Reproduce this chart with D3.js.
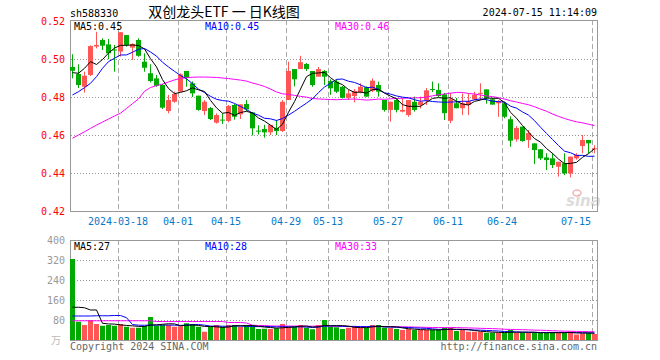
<!DOCTYPE html>
<html><head><meta charset="utf-8">
<script src="https://cdn.jsdelivr.net/npm/d3@7"></script>
<style>body{margin:0;background:#fff}svg{display:block}</style>
</head><body><svg id="c" width="660" height="360"></svg>
<script>
const dates = ["2024-03-06","2024-03-07","2024-03-08","2024-03-11","2024-03-12","2024-03-13","2024-03-14","2024-03-15",
"2024-03-18","2024-03-19","2024-03-20","2024-03-21","2024-03-22","2024-03-25","2024-03-26","2024-03-27","2024-03-28","2024-03-29",
"2024-04-01","2024-04-02","2024-04-03","2024-04-08","2024-04-09","2024-04-10","2024-04-11","2024-04-12",
"2024-04-15","2024-04-16","2024-04-17","2024-04-18","2024-04-19","2024-04-22","2024-04-23","2024-04-24","2024-04-25","2024-04-26",
"2024-04-29","2024-04-30","2024-05-06","2024-05-07","2024-05-08","2024-05-09","2024-05-10",
"2024-05-13","2024-05-14","2024-05-15","2024-05-16","2024-05-17","2024-05-20","2024-05-21","2024-05-22","2024-05-23","2024-05-24",
"2024-05-27","2024-05-28","2024-05-29","2024-05-30","2024-05-31","2024-06-03","2024-06-04","2024-06-05","2024-06-06","2024-06-07",
"2024-06-11","2024-06-12","2024-06-13","2024-06-14","2024-06-17","2024-06-18","2024-06-19","2024-06-20","2024-06-21",
"2024-06-24","2024-06-25","2024-06-26","2024-06-27","2024-06-28","2024-07-01","2024-07-02","2024-07-03","2024-07-04","2024-07-05",
"2024-07-08","2024-07-09","2024-07-10","2024-07-11","2024-07-12","2024-07-15"];
const open = [0.4958,0.4921,0.4854,0.4916,0.5066,0.5100,0.5077,0.5050,0.5039,0.5126,0.5060,0.5100,0.4986,0.4925,0.4898,0.4863,0.4726,0.4775,
0.4828,0.4937,0.4872,0.4807,0.4726,0.4742,0.4665,0.4681,0.4674,0.4758,0.4709,0.4763,0.4719,0.4623,0.4632,0.4614,0.4638,0.4621,
0.4784,0.4947,0.4947,0.4974,0.4937,0.4907,0.4937,0.4884,0.4881,0.4854,0.4796,0.4805,0.4825,0.4851,0.4833,0.4863,0.4784,
0.4732,0.4784,0.4723,0.4705,0.4775,0.4758,0.4784,0.4842,0.4837,0.4814,0.4675,0.4767,0.4741,0.4758,0.4788,0.4818,0.4840,0.4788,0.4767,
0.4767,0.4683,0.4577,0.4644,0.4574,0.4556,0.4525,0.4482,0.4477,0.4433,0.4451,0.4398,0.4477,0.4542,0.4574,0.4526];
const high = [0.5025,0.4972,0.4933,0.5072,0.5143,0.5109,0.5105,0.5074,0.5141,0.5126,0.5083,0.5109,0.5030,0.4972,0.4916,0.4868,0.4811,0.4828,
0.4925,0.4937,0.4882,0.4807,0.4784,0.4747,0.4714,0.4714,0.4758,0.4763,0.4761,0.4784,0.4721,0.4651,0.4654,0.4653,0.4679,0.4784,
0.4986,0.4947,0.5017,0.4979,0.4937,0.4958,0.4942,0.4893,0.4893,0.4858,0.4837,0.4842,0.4872,0.4856,0.4898,0.4881,0.4784,
0.4775,0.4793,0.4793,0.4784,0.4802,0.4802,0.4847,0.4881,0.4872,0.4821,0.4821,0.4795,0.4819,0.4819,0.4828,0.4872,0.4840,0.4795,0.4784,
0.4775,0.4698,0.4647,0.4644,0.4626,0.4556,0.4525,0.4504,0.4504,0.4459,0.4504,0.4486,0.4504,0.4600,0.4574,0.4546];
const low = [0.4898,0.4847,0.4823,0.4910,0.5056,0.5047,0.4999,0.4933,0.5013,0.5065,0.4995,0.5012,0.4933,0.4877,0.4854,0.4737,0.4714,0.4770,
0.4828,0.4854,0.4800,0.4728,0.4705,0.4679,0.4660,0.4658,0.4667,0.4681,0.4684,0.4726,0.4598,0.4602,0.4586,0.4600,0.4600,0.4616,
0.4784,0.4856,0.4947,0.4937,0.4854,0.4907,0.4863,0.4811,0.4821,0.4793,0.4784,0.4772,0.4819,0.4802,0.4826,0.4802,0.4723,
0.4670,0.4719,0.4719,0.4696,0.4723,0.4740,0.4758,0.4826,0.4800,0.4679,0.4662,0.4741,0.4705,0.4705,0.4784,0.4784,0.4765,0.4760,0.4696,
0.4688,0.4538,0.4565,0.4565,0.4532,0.4447,0.4468,0.4416,0.4426,0.4381,0.4389,0.4377,0.4470,0.4504,0.4504,0.4504];
const close = [0.4938,0.4863,0.4912,0.5068,0.5074,0.5070,0.5030,0.5045,0.5141,0.5074,0.5079,0.5017,0.4954,0.4884,0.4859,0.4744,0.4784,0.4816,
0.4919,0.4902,0.4819,0.4732,0.4775,0.4684,0.4705,0.4677,0.4753,0.4696,0.4761,0.4735,0.4635,0.4621,0.4614,0.4653,0.4621,0.4775,
0.4937,0.4893,0.4983,0.4947,0.4863,0.4947,0.4907,0.4846,0.4828,0.4796,0.4819,0.4832,0.4854,0.4802,0.4886,0.4828,0.4732,
0.4775,0.4732,0.4732,0.4784,0.4732,0.4775,0.4835,0.4837,0.4805,0.4715,0.4788,0.4741,0.4767,0.4777,0.4812,0.4822,0.4795,0.4760,0.4777,
0.4696,0.4570,0.4637,0.4568,0.4610,0.4521,0.4477,0.4468,0.4442,0.4459,0.4398,0.4486,0.4495,0.4574,0.4556,0.4530];
const volume = [324,73,60,80,64,57,60,57,64,53,49,49,56,92,57,60,60,53,55,67,64,53,33,53,60,53,60,60,53,60,
57,44,45,44,47,64,53,53,60,49,43,60,80,53,51,44,49,56,49,49,60,60,49,49,44,40,44,40,40,40,
40,40,49,49,36,40,33,33,33,29,29,29,29,40,29,29,29,29,29,29,30,29,29,34,22,27,28,24];
// moving-average values visible before enough in-chart data exists
const ma5Lead = [0.4928,0.4925,0.4951,0.4986];
const ma10Lead = [0.4811,0.4828,0.4849,0.4872,0.4907,0.4951,0.4986,0.5004,0.5021];
const ma30Lead = [0.4583,0.4600,0.4617,0.4635,0.4652,0.4668,0.4684,0.4700,0.4715,0.4740,0.4765,0.4790,0.4830,0.4850,0.4860,
0.4868,0.4879,0.4890,0.4898,0.4902,0.4904,0.4905,0.4905,0.4904,0.4903,0.4900,0.4897,0.4893,0.4889];
const vma5Lead = [131,131,129,120];
const vma10Lead = [96,96,96,96,97,97,97,98,98];
const vma30Lead = [77,77,77,77,77,77,77,77,77,77,77,77,77,77,74,74,74,74,74,74,74,74,74,74,74,74,70,70,70];
const tickDates = ["2024-03-18","2024-04-01","2024-04-15","2024-04-29","2024-05-13","2024-05-27","2024-06-11","2024-06-24","2024-07-15"];
const tickLabels = ["2024-03-18","04-01","04-15","04-29","05-13","05-27","06-11","06-24","07-15"];
const priceTicks = [0.42,0.44,0.46,0.48,0.50,0.52];
const volTicks = [80,160,240,320,400];

const RED = "#ff5555", GREEN = "#00aa00", MONO = "'DejaVu Sans Mono', monospace";
const svg = d3.select("#c");
const x = d3.scaleBand().domain(d3.range(dates.length)).range([70, 598]).padding(0);
const y = d3.scaleLinear().domain([0.42, 0.52]).range([211, 21]);
const yv = d3.scaleLinear().domain([0, 400]).range([340, 240]);
const cx = i => x(i) + 2.5;

function ma(arr, n, lead) {
  return arr.map((_, i) => i < n - 1 ? lead[i] : d3.mean(arr.slice(i - n + 1, i + 1)));
}
const m5 = ma(close, 5, ma5Lead), m10 = ma(close, 10, ma10Lead), m30 = ma(close, 30, ma30Lead);
const v5 = ma(volume, 5, vma5Lead), v10 = ma(volume, 10, vma10Lead), v30 = ma(volume, 30, vma30Lead);

// header
svg.append("text").attr("x", 70).attr("y", 17).attr("font-family", MONO).attr("font-size", 10).attr("fill", "#000").text("sh588330");
svg.append("text").attr("x", 224).attr("y", 17).attr("text-anchor", "middle").attr("font-family", "'Noto Sans CJK SC', sans-serif")
  .attr("font-size", 14).attr("fill", "#000").text("双创龙头ETF 一 日K线图");
svg.append("text").attr("x", 597).attr("y", 16).attr("text-anchor", "end").attr("font-family", MONO).attr("font-size", 10).attr("fill", "#000").text("2024-07-15 11:14:09");

// watermark
svg.append("text").attr("x", 566).attr("y", 206).attr("font-family", "'DejaVu Sans', sans-serif").attr("font-style", "italic")
  .attr("font-weight", "bold").attr("font-size", 15).attr("fill", "#dcdcdc").text("sina");
svg.append("ellipse").attr("cx", 577).attr("cy", 193).attr("rx", 4).attr("ry", 3).attr("fill", "none").attr("stroke", "#f3b5b5").attr("stroke-width", 1.5);

function panel(yScale, ticks, top, bottom, labelColor, fmt) {
  const g = svg.append("g");
  // horizontal dotted grid
  g.selectAll(".h").data(ticks.filter(t => yScale(t) > top + 1 && yScale(t) < bottom - 1)).join("line")
    .attr("x1", 71).attr("x2", 597).attr("y1", t => Math.round(yScale(t)) + 0.5).attr("y2", t => Math.round(yScale(t)) + 0.5)
    .attr("stroke", "#999").attr("stroke-dasharray", "1,2");
  // vertical dashed grid
  g.selectAll(".v").data(tickDates).join("line")
    .attr("x1", d => x(dates.indexOf(d)) + 0.5).attr("x2", d => x(dates.indexOf(d)) + 0.5)
    .attr("y1", top).attr("y2", bottom).attr("stroke", "#aaa").attr("stroke-dasharray", "5,3");
  // frame
  g.append("rect").attr("x", 70.5).attr("y", top + 0.5).attr("width", 527).attr("height", bottom - top)
    .attr("fill", "none").attr("stroke", "#999");
  // axis labels
  g.selectAll(".t").data(ticks).join("text").attr("x", 65).attr("y", t => yScale(t)).attr("dy", "0.35em")
    .attr("text-anchor", "end").attr("font-family", MONO).attr("font-size", 10).attr("fill", labelColor).text(fmt);
  return g;
}
panel(y, priceTicks, 20, 211, "#ff0000", d => d.toFixed(2));
panel(yv, volTicks, 240, 340, "#999", d => d);

// date labels
svg.selectAll(".dl").data(tickDates).join("text")
  .attr("x", (d, k) => x(dates.indexOf(d)) - (k === tickDates.length - 1 ? 1 : 0))
  .attr("y", 225).attr("text-anchor", (d, k) => k === tickDates.length - 1 ? "end" : "middle")
  .attr("font-family", MONO).attr("font-size", 10).attr("fill", "#0a78c8").text((d, k) => tickLabels[k]);

const idx = d3.range(dates.length);
const col = i => close[i] >= open[i] ? RED : GREEN;
// candles
const cg = svg.append("g");
cg.selectAll(".w").data(idx).join("line").attr("x1", cx).attr("x2", cx)
  .attr("y1", i => y(high[i])).attr("y2", i => y(low[i])).attr("stroke", col);
cg.selectAll(".b").data(idx).join("rect").attr("x", i => x(i)).attr("width", 5)
  .attr("y", i => y(Math.max(open[i], close[i])))
  .attr("height", i => Math.max(1, Math.abs(y(open[i]) - y(close[i]))))
  .attr("fill", col);

// volume bars
svg.append("g").selectAll("rect").data(idx).join("rect").attr("x", i => x(i)).attr("width", 5)
  .attr("y", i => yv(volume[i])).attr("height", i => yv(0) - yv(volume[i])).attr("fill", col);

// MA lines
function line(vals, sc, color) {
  svg.append("path").datum(idx).attr("fill", "none").attr("stroke", color).attr("stroke-width", 1)
    .attr("d", d3.line().x(cx).y(i => sc(vals[i])));
}
line(m30, y, "#ff00ff"); line(m10, y, "#0000ff"); line(m5, y, "#000000");
line(v30, yv, "#ff00ff"); line(v10, yv, "#0000ff"); line(v5, yv, "#000000");

// legends
const last = dates.length - 1;
function legend(yy, a, b, c) {
  svg.append("text").attr("x", 74).attr("y", yy).attr("font-family", MONO).attr("font-size", 10).attr("fill", "#000").text(a);
  svg.append("text").attr("x", 205).attr("y", yy).attr("font-family", MONO).attr("font-size", 10).attr("fill", "#0000ff").text(b);
  svg.append("text").attr("x", 335).attr("y", yy).attr("font-family", MONO).attr("font-size", 10).attr("fill", "#ff00ff").text(c);
}
legend(30, "MA5:" + m5[last].toFixed(2), "MA10:" + m10[last].toFixed(2), "MA30:" + m30[last].toFixed(2));
legend(250, "MA5:" + Math.round(v5[last]), "MA10:" + Math.round(v10[last]), "MA30:" + Math.round(v30[last]));

// footer
svg.append("text").attr("x", 56).attr("y", 344).attr("text-anchor", "middle").attr("font-family", "'Noto Sans CJK SC', sans-serif")
  .attr("font-size", 10).attr("fill", "#bbb").text("万");
svg.append("text").attr("x", 70).attr("y", 350).attr("font-family", MONO).attr("font-size", 10).attr("fill", "#666").text("Copyright 2024 SINA.COM");
svg.append("text").attr("x", 597).attr("y", 350).attr("text-anchor", "end").attr("font-family", MONO).attr("font-size", 10).attr("fill", "#666").text("http://finance.sina.com.cn");
</script></body></html>
